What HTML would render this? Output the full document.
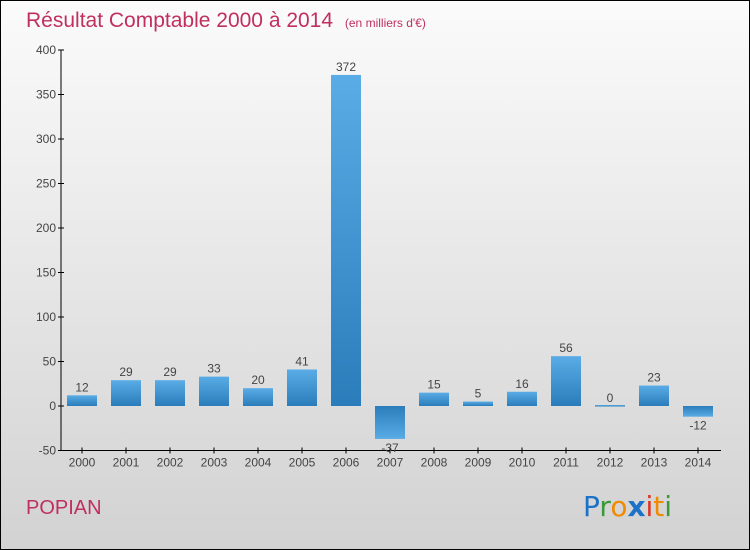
<!DOCTYPE html>
<html><head><meta charset="utf-8"><style>
body{margin:0}
svg{display:block;font-family:"Liberation Sans",sans-serif}
</style></head><body>
<svg id="c" width="750" height="550" xmlns="http://www.w3.org/2000/svg">
<defs>
<linearGradient id="bg" x1="0" y1="0" x2="0" y2="1"><stop offset="0" stop-color="#fbfbfb"/><stop offset="1" stop-color="#d2d2d2"/></linearGradient>
<linearGradient id="bar" x1="0" y1="0" x2="0" y2="1"><stop offset="0" stop-color="#5aace6"/><stop offset="1" stop-color="#2a7dba"/></linearGradient>
<linearGradient id="barn" x1="0" y1="0" x2="0" y2="1"><stop offset="0" stop-color="#2a7dba"/><stop offset="1" stop-color="#5aace6"/></linearGradient>
</defs>
<rect x="0.5" y="0.5" width="749" height="549" fill="url(#bg)" stroke="#000"/>
<text x="26" y="27" font-size="21" fill="#c0305f">Résultat Comptable 2000 à 2014 <tspan font-size="12" dx="6">(en milliers d'€)</tspan></text>
<text x="26" y="514" font-size="20" fill="#c0305f">POPIAN</text>
<g id="plot"></g>
<text x="583" y="516" font-size="28" font-family="'DejaVu Sans',sans-serif"><tspan fill="#1a73c8">P</tspan><tspan fill="#3a9a3a">r</tspan><tspan fill="#f08a00">o</tspan><tspan fill="#1a73c8" font-weight="bold">x</tspan><tspan fill="#e03020">i</tspan><tspan fill="#f08a00">t</tspan><tspan fill="#3a9a3a">i</tspan></text>
</svg>
<script>
const categories=["2000","2001","2002","2003","2004","2005","2006","2007","2008","2009","2010","2011","2012","2013","2014"];
const values=[12,29,29,33,20,41,372,-37,15,5,16,56,0,23,-12];
const yTicks=[-50,0,50,100,150,200,250,300,350,400];
const NS="http://www.w3.org/2000/svg";
const g=document.getElementById("plot");
const y=v=>406-v*0.89;
const x=i=>82+i*44;
function mk(t,a,txt){const e=document.createElementNS(NS,t);for(const k in a)e.setAttribute(k,a[k]);if(txt!==undefined)e.textContent=txt;g.appendChild(e);return e;}
let ax=mk("line",{x1:61,y1:y(400),x2:61,y2:y(-50),stroke:"#000"});


let bx=mk("line",{x1:61,y1:y(-50),x2:721,y2:y(-50),stroke:"#000"});


yTicks.forEach(t=>{
 mk("line",{x1:58,x2:64,y1:y(t),y2:y(t),stroke:"#000"});
 const l=mk("text",{x:56,y:y(t)+4,"text-anchor":"end","font-size":12,fill:"#444"},t);
 
 
});
categories.forEach((c,i)=>{
 mk("line",{x1:x(i),x2:x(i),y1:y(-50)-3,y2:y(-50)+3,stroke:"#000"});
 const l=mk("text",{x:x(i),y:y(-50)+16,"text-anchor":"middle","font-size":12,fill:"#444"},c);
 
 
 const v=values[i];
 const top=Math.min(y(v),y(0)),h=Math.max(Math.abs(y(v)-y(0)),1.5);
 const r=mk("rect",{x:x(i)-15,y:v===0?y(0)-1:top,width:30,height:h,fill:v<0?"url(#barn)":"url(#bar)"});
 
 
 const vl=mk("text",{x:x(i),y:v<0?y(v)+13:y(v)-4,"text-anchor":"middle","font-size":12,fill:"#444"},v);
 
 
});
</script>
</body></html>
